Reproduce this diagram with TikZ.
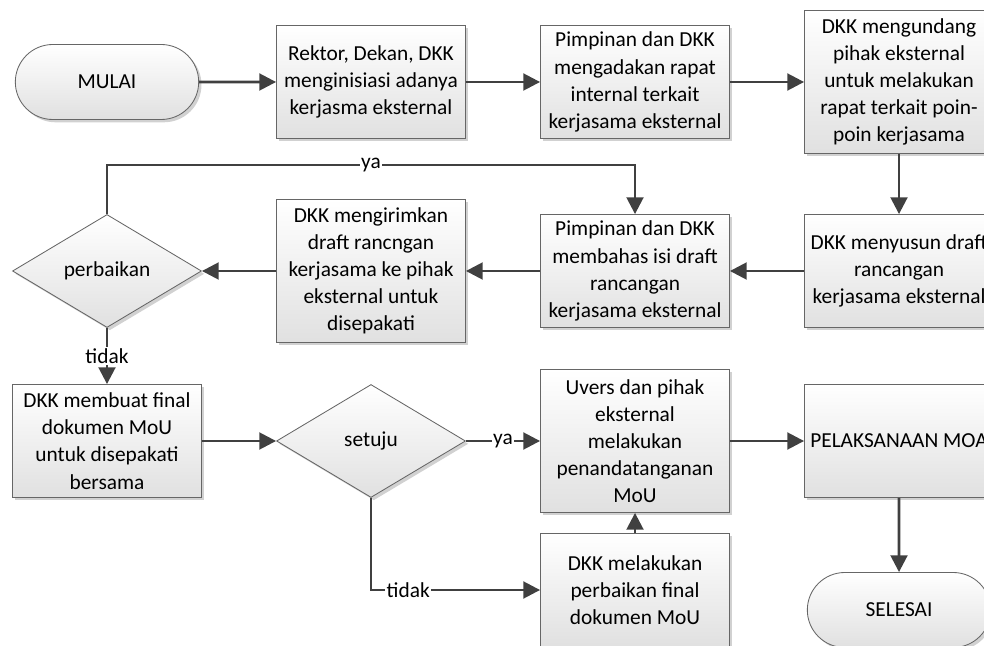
\documentclass[tikz,border=0pt]{standalone}
\usepackage{fontspec}
\setmainfont{Carlito}
\usetikzlibrary{shapes.geometric,shapes.misc,arrows.meta,positioning,shadows}

\begin{document}
\begin{tikzpicture}[
    node distance=4.725cm and 6.6cm, on grid,
    base/.style={draw=black!60,line width=0.6pt,top color=white,bottom color=black!12,
        drop shadow={shadow xshift=0.07cm,shadow yshift=-0.07cm,opacity=0.18,fill=black},
        align=center,inner sep=2pt,font=\fontsize{15.2}{19.3}\selectfont},
    box/.style={base,rectangle,minimum width=4.725cm,minimum height=2.825cm},
    tall/.style={minimum height=3.575cm},
    term/.style={base,rounded rectangle,minimum width=4.725cm,minimum height=1.875cm},
    decision/.style={base,diamond,minimum width=4.725cm,minimum height=2.825cm,inner sep=0pt},
    arrow/.style={-{Triangle[length=0.42cm,width=0.42cm]},line width=1.9pt,draw=black!75},
    labelstyle/.style={fill=white,inner sep=1pt,font=\fontsize{15.2}{19.3}\selectfont}
]
\clip (0,0) rectangle (24.6,-16.15);

% baris pertama
\node[term] (mulai) at (2.675,-2.05) {MULAI};
\node[box,right=of mulai] (inisiasi) {Rektor, Dekan, DKK\\menginisiasi adanya\\kerjasma eksternal};
\node[box,right=of inisiasi] (rapat) {Pimpinan dan DKK\\mengadakan rapat\\internal terkait\\kerjasama eksternal};
\node[box,tall,right=of rapat] (undang) {DKK mengundang\\pihak eksternal\\untuk melakukan\\rapat terkait poin-\\poin kerjasama};

% baris kedua
\node[box,below=of undang] (susun) {DKK menyusun draft\\rancangan\\kerjasama eksternal};
\node[box,below=of rapat] (bahas) {Pimpinan dan DKK\\membahas isi draft\\rancangan\\kerjasama eksternal};
\node[box,tall,below=of inisiasi] (kirim) {DKK mengirimkan\\draft rancngan\\kerjasama ke pihak\\eksternal untuk\\disepakati};
\node[decision,below=of mulai] (perbaikan) {perbaikan};

% baris ketiga
\node[box,below=4.25cm of perbaikan] (final) {DKK membuat final\\dokumen MoU\\untuk disepakati\\bersama};
\node[decision,below=4.25cm of kirim] (setuju) {setuju};
\node[box,tall,below=4.25cm of bahas] (uvers) {Uvers dan pihak\\eksternal\\melakukan\\penandatanganan\\MoU};
\node[box,below=4.25cm of susun] (pelaksanaan) {PELAKSANAAN MOA};
\node[box,below=3.725cm of uvers] (revisi) {DKK melakukan\\perbaikan final\\dokumen MoU};
\node[term,below=4.225cm of pelaksanaan] (selesai) {SELESAI};

\draw[arrow] (mulai) -- (inisiasi);
\draw[arrow] (inisiasi) -- (rapat);
\draw[arrow] (rapat) -- (undang);
\draw[arrow] (undang) -- (susun);
\draw[arrow] (susun) -- (bahas);
\draw[arrow] (bahas) -- (kirim);
\draw[arrow] (kirim) -- (perbaikan);
\draw[arrow] (perbaikan.north) -- ++(0,1.225) -| node[pos=0.25,labelstyle] {ya} (bahas.north);
\draw[arrow] (perbaikan) -- node[labelstyle] {tidak} (final);
\draw[arrow] (final) -- (setuju);
\draw[arrow] (setuju) -- node[labelstyle] {ya} (uvers);
\draw[arrow] (setuju.south) |- node[pos=0.61,labelstyle] {tidak} (revisi.west);
\draw[arrow] (revisi) -- (uvers);
\draw[arrow] (uvers) -- (pelaksanaan);
\draw[arrow] (pelaksanaan) -- (selesai);

\end{tikzpicture}
\end{document}
